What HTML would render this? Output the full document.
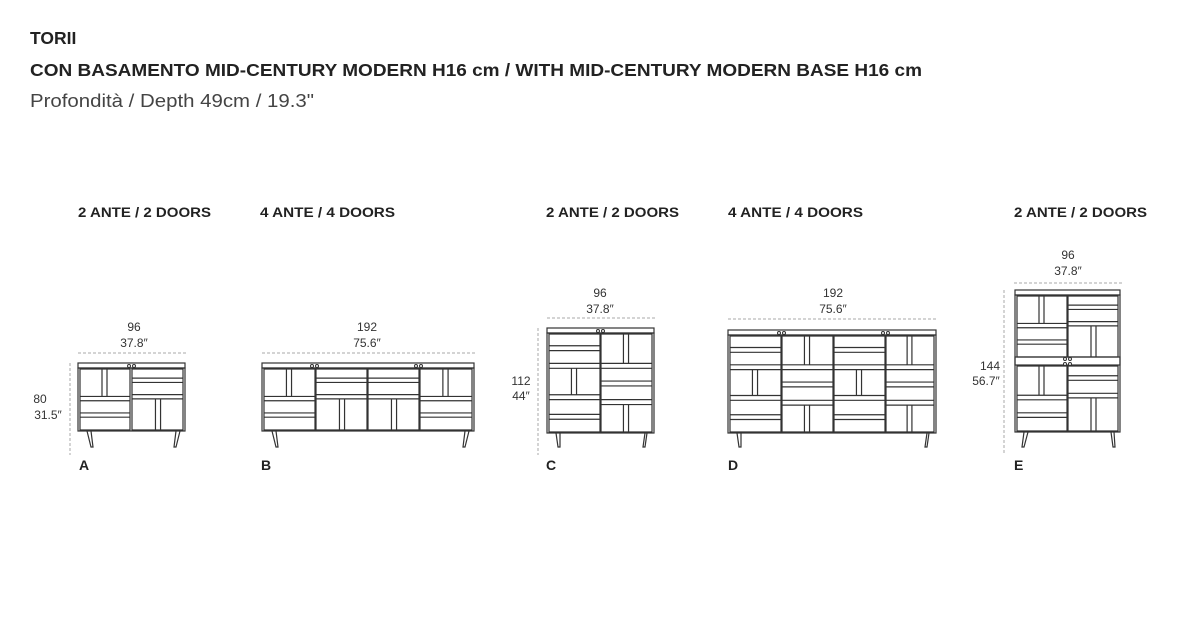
<!DOCTYPE html>
<html><head><meta charset="utf-8"><style>
html,body{margin:0;padding:0;background:#fff;width:1200px;height:629px;overflow:hidden}
svg{display:block}
text{font-family:"Liberation Sans",sans-serif;fill:#222}
.d{stroke:#333;stroke-width:1.2;fill:none}
.dim{stroke:#aaa;stroke-width:1;stroke-dasharray:3 2;fill:none}
.t{font-size:12px;text-anchor:middle;fill:#333}
.h{font-size:13.5px;font-weight:bold}
.lab{font-size:14px;font-weight:bold}
.k{fill:#fff;stroke:#333;stroke-width:1}
</style></head><body>
<svg width="1200" height="629" viewBox="0 0 1200 629" xmlns="http://www.w3.org/2000/svg">
<defs>
<g id="L"><path vector-effect="non-scaling-stroke" class="d" d="M0 0H50V100H0Z M22 0V45 M27 0V45 M0 45H50 M0 52H50 M0 72H50 M0 79H50"/></g>
<g id="R"><path vector-effect="non-scaling-stroke" class="d" d="M0 0H50V100H0Z M0 15H50 M0 22H50 M0 42H50 M0 49H50 M23 49V100 M28 49V100"/></g>
<g id="T1"><path vector-effect="non-scaling-stroke" class="d" d="M0 0H50V100H0Z M0 12H50 M0 17H50 M0 30H50 M0 35H50 M22 35V62 M27 35V62 M0 62H50 M0 67H50 M0 82H50 M0 87H50"/></g>
<g id="T2"><path vector-effect="non-scaling-stroke" class="d" d="M0 0H50V100H0Z M22 0V30 M27 0V30 M0 30H50 M0 35H50 M0 48H50 M0 53H50 M0 67H50 M0 72H50 M22 72V100 M27 72V100"/></g>
</defs>

<text x="30" y="44" style="font-size:17.5px;font-weight:bold">TORII</text>
<text x="30" y="76" textLength="892" lengthAdjust="spacingAndGlyphs" style="font-size:17.5px;font-weight:bold">CON BASAMENTO MID-CENTURY MODERN H16 cm / WITH MID-CENTURY MODERN BASE H16 cm</text>
<text x="30" y="107" textLength="284" lengthAdjust="spacingAndGlyphs" style="font-size:18px;fill:#444">Profondità / Depth 49cm / 19.3"</text>

<text class="h" x="78" y="217" textLength="133" lengthAdjust="spacingAndGlyphs">2 ANTE / 2 DOORS</text>
<text class="h" x="260" y="217" textLength="135" lengthAdjust="spacingAndGlyphs">4 ANTE / 4 DOORS</text>
<text class="h" x="546" y="217" textLength="133" lengthAdjust="spacingAndGlyphs">2 ANTE / 2 DOORS</text>
<text class="h" x="728" y="217" textLength="135" lengthAdjust="spacingAndGlyphs">4 ANTE / 4 DOORS</text>
<text class="h" x="1014" y="217" textLength="133" lengthAdjust="spacingAndGlyphs">2 ANTE / 2 DOORS</text>

<!-- A -->
<text class="t" x="134" y="331">96</text><text class="t" x="134" y="347">37.8″</text>
<path class="dim" d="M78 353H186 M70 363V455"/>
<text class="t" x="40" y="403">80</text><text class="t" x="48" y="419">31.5″</text>
<rect class="d" x="78" y="363" width="107" height="5"/>
<rect class="d" x="78" y="368" width="107" height="63"/>
<svg x="80" y="369" width="50" height="61" viewBox="0 0 50 100" preserveAspectRatio="none" overflow="visible"><use href="#L"/></svg>
<svg x="132" y="369" width="51" height="61" viewBox="0 0 50 100" preserveAspectRatio="none" overflow="visible"><use href="#R"/></svg>
<circle class="k" cx="129" cy="366" r="1.5"/><circle class="k" cx="134" cy="366" r="1.5"/>
<path class="d" d="M87 431L91 447L93 447L91 431 M176 431L174 447L176 447L180 431"/>
<text class="lab" x="79" y="470">A</text>

<!-- B -->
<text class="t" x="367" y="331">192</text><text class="t" x="367" y="347">75.6″</text>
<path class="dim" d="M262 353H475"/>
<rect class="d" x="262" y="363" width="212" height="5"/>
<rect class="d" x="262" y="368" width="212" height="63"/>
<svg x="264" y="369" width="51" height="61" viewBox="0 0 50 100" preserveAspectRatio="none" overflow="visible"><use href="#L"/></svg>
<svg x="316" y="369" width="51" height="61" viewBox="0 0 50 100" preserveAspectRatio="none" overflow="visible"><use href="#R"/></svg>
<svg x="368" y="369" width="51" height="61" viewBox="0 0 50 100" preserveAspectRatio="none" overflow="visible"><use href="#R"/></svg>
<svg x="420" y="369" width="52" height="61" viewBox="0 0 50 100" preserveAspectRatio="none" overflow="visible"><use href="#L"/></svg>
<circle class="k" cx="312" cy="366" r="1.5"/><circle class="k" cx="317" cy="366" r="1.5"/>
<circle class="k" cx="416" cy="366" r="1.5"/><circle class="k" cx="421" cy="366" r="1.5"/>
<path class="d" d="M272 431L276 447L278 447L276 431 M465 431L463 447L465 447L469 431"/>
<text class="lab" x="261" y="470">B</text>

<!-- C -->
<text class="t" x="600" y="297">96</text><text class="t" x="600" y="313">37.8″</text>
<path class="dim" d="M547 318H655 M538 328V455"/>
<text class="t" x="521" y="385">112</text><text class="t" x="521" y="400">44″</text>
<rect class="d" x="547" y="328" width="107" height="5"/>
<rect class="d" x="547" y="333" width="107" height="100"/>
<svg x="549" y="334" width="51" height="98" viewBox="0 0 50 100" preserveAspectRatio="none" overflow="visible"><use href="#T1"/></svg>
<svg x="601" y="334" width="51" height="98" viewBox="0 0 50 100" preserveAspectRatio="none" overflow="visible"><use href="#T2"/></svg>
<circle class="k" cx="598" cy="331" r="1.5"/><circle class="k" cx="603" cy="331" r="1.5"/>
<path class="d" d="M556 433L558 447L560 447L560 433 M645 433L643 447L645 447L647 433"/>
<text class="lab" x="546" y="470">C</text>

<!-- D -->
<text class="t" x="833" y="297">192</text><text class="t" x="833" y="313">75.6″</text>
<path class="dim" d="M728 319H938"/>
<rect class="d" x="728" y="330" width="208" height="5"/>
<rect class="d" x="728" y="335" width="208" height="98"/>
<svg x="730" y="336" width="51" height="96" viewBox="0 0 50 100" preserveAspectRatio="none" overflow="visible"><use href="#T1"/></svg>
<svg x="782" y="336" width="51" height="96" viewBox="0 0 50 100" preserveAspectRatio="none" overflow="visible"><use href="#T2"/></svg>
<svg x="834" y="336" width="51" height="96" viewBox="0 0 50 100" preserveAspectRatio="none" overflow="visible"><use href="#T1"/></svg>
<svg x="886" y="336" width="48" height="96" viewBox="0 0 50 100" preserveAspectRatio="none" overflow="visible"><use href="#T2"/></svg>
<circle class="k" cx="779" cy="333" r="1.5"/><circle class="k" cx="784" cy="333" r="1.5"/>
<circle class="k" cx="883" cy="333" r="1.5"/><circle class="k" cx="888" cy="333" r="1.5"/>
<path class="d" d="M737 433L739 447L741 447L741 433 M927 433L925 447L927 447L929 433"/>
<text class="lab" x="728" y="470">D</text>

<!-- E -->
<text class="t" x="1068" y="259">96</text><text class="t" x="1068" y="275">37.8″</text>
<path class="dim" d="M1014 283H1122 M1004 290V455"/>
<text class="t" x="990" y="370">144</text><text class="t" x="986" y="385">56.7″</text>
<rect class="d" x="1015" y="290" width="105" height="5"/>
<rect class="d" x="1015" y="295" width="105" height="137"/>
<rect class="d" x="1015" y="357" width="105" height="8"/>
<svg x="1017" y="296" width="50" height="61" viewBox="0 0 50 100" preserveAspectRatio="none" overflow="visible"><use href="#L"/></svg>
<svg x="1068" y="296" width="50" height="61" viewBox="0 0 50 100" preserveAspectRatio="none" overflow="visible"><use href="#R"/></svg>
<svg x="1017" y="366" width="50" height="65" viewBox="0 0 50 100" preserveAspectRatio="none" overflow="visible"><use href="#L"/></svg>
<svg x="1068" y="366" width="50" height="65" viewBox="0 0 50 100" preserveAspectRatio="none" overflow="visible"><use href="#R"/></svg>
<circle class="k" cx="1065" cy="359" r="1.5"/><circle class="k" cx="1070" cy="359" r="1.5"/>
<circle class="k" cx="1065" cy="364" r="1.5"/><circle class="k" cx="1070" cy="364" r="1.5"/>
<path class="d" d="M1024 432L1022 447L1024 447L1028 432 M1111 432L1113 447L1115 447L1114 432"/>
<text class="lab" x="1014" y="470">E</text>
</svg>
</body></html>
